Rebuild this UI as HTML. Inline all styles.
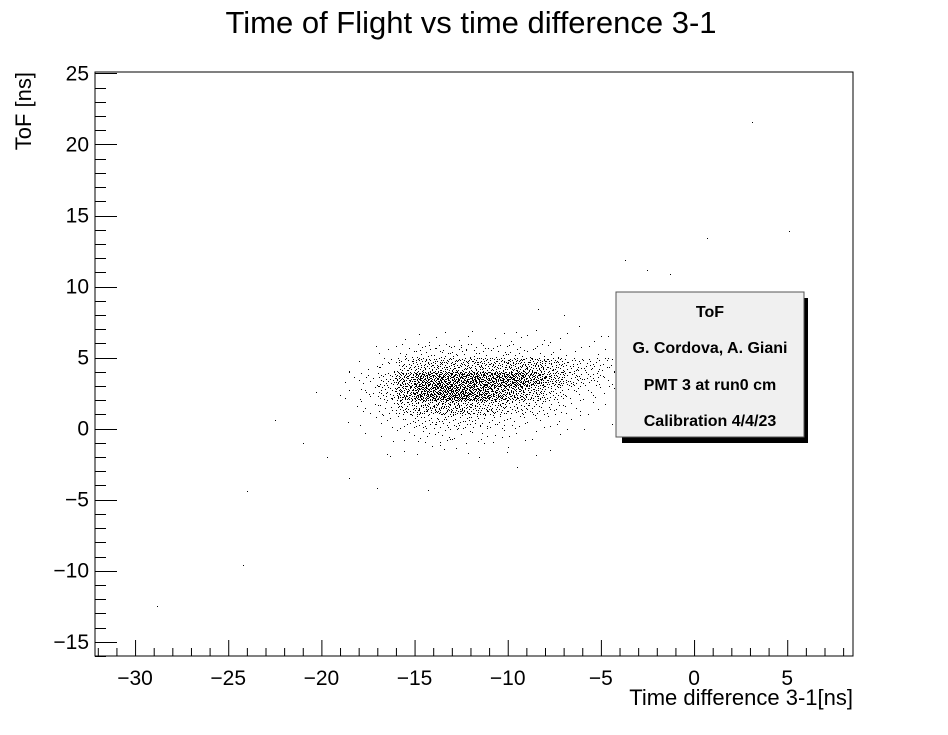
<!DOCTYPE html>
<html><head><meta charset="utf-8"><style>
html,body{margin:0;padding:0;background:#fff;}
svg text{font-family:"Liberation Sans",Helvetica,sans-serif;}
</style></head><body>
<svg id="chart" width="948" height="730" viewBox="0 0 948 730" xmlns="http://www.w3.org/2000/svg">
<rect x="0" y="0" width="948" height="730" fill="#fff"/>
<text x="471" y="33" font-size="31" text-anchor="middle">Time of Flight vs time difference 3-1</text>
<g id="dots"></g>
<g id="axes"></g>
<rect x="95" y="72" width="758" height="584" fill="none" stroke="#000" stroke-width="1"/>
<text transform="translate(31,72) rotate(-90)" font-size="22" text-anchor="end">ToF [ns]</text>
<text x="853" y="705" font-size="22" text-anchor="end">Time difference 3-1[ns]</text>
<g>
<rect x="622" y="298" width="186" height="145" fill="#000"/>
<rect x="616" y="292" width="188" height="145" fill="#f0f0f0" stroke="#555" stroke-width="1"/>
<text x="710" y="317" font-size="16" font-weight="bold" text-anchor="middle">ToF</text>
<text x="710" y="353" font-size="16" font-weight="bold" text-anchor="middle">G. Cordova, A. Giani</text>
<text x="710" y="390" font-size="16" font-weight="bold" text-anchor="middle">PMT 3 at run0 cm</text>
<text x="710" y="426" font-size="16" font-weight="bold" text-anchor="middle">Calibration 4/4/23</text>
</g>
</svg>
<script>
// ---- data ----
const xBinStarts = [-19,-18,-17,-16,-15,-14,-13,-12,-11,-10,-9,-8,-7,-6,-5,-4];
const yBinStarts = [6,5,4,3,2,1,0,-1,-2];
const binCounts = [
 [0,0,0,1,2,2,2,2,2,3,3,2,1,1,1,0],
 [0,1,2,8,12,14,14,12,10,10,8,5,3,2,1,1],
 [1,3,8,30,45,50,50,50,50,60,60,40,25,18,12,8],
 [3,8,25,80,130,140,140,140,130,140,100,60,30,18,8,4],
 [3,8,25,80,130,150,150,130,100,80,50,25,10,6,3,1],
 [1,5,12,35,50,60,60,45,40,25,20,12,5,3,1,1],
 [1,2,5,10,18,20,20,15,12,8,5,4,2,1,1,0],
 [0,1,2,4,6,8,6,5,4,3,2,1,1,0,0,0],
 [0,0,1,1,2,2,2,2,1,1,1,1,0,0,0,0]
];
const outlierX = [-28.8,-24.2,-24.0,-22.5,-21.0,-19.7,-17.0,-14.3,3.1,5.1,0.7,-2.5,-1.3,-3.7,-1.0,0.0,-8.4,-7.0,-5.0,-4.6,-3.0,-18.5,-16.5,-20.3,-9.5,-6.2];
const outlierY = [-12.5,-9.6,-4.4,0.6,-1.0,-2.0,-4.2,-4.3,21.6,13.9,13.4,11.2,10.9,11.9,9.5,9.0,8.4,8.0,6.5,5.0,6.0,-3.5,-1.8,2.6,-2.7,7.2];
const xTickValues = [-30,-25,-20,-15,-10,-5,0,5];
const xTickLabels = ["\u221230","\u221225","\u221220","\u221215","\u221210","\u22125","0","5"];
const yTickValues = [-15,-10,-5,0,5,10,15,20,25];
const yTickLabels = ["\u221215","\u221210","\u22125","0","5","10","15","20","25"];

// ---- axes ----
const X0=95, X1=853, Y0=656, Y1=72;
const xMin=-32.15, xMax=8.53, yMin=-16.0, yMax=25.1;
const sx = v => X0 + (v - xMin) / (xMax - xMin) * (X1 - X0);
const sy = v => Y0 - (v - yMin) / (yMax - yMin) * (Y0 - Y1);
const NS = "http://www.w3.org/2000/svg";

function halton(i, b){let f=1,r=0;while(i>0){f/=b;r+=f*(i%b);i=Math.floor(i/b);}return r;}

const dots = document.getElementById('dots');
let k = 1;
function addDot(x, y){
  const r = document.createElementNS(NS,'rect');
  
  
  r.setAttribute('x', Math.round(sx(x)));
  r.setAttribute('y', Math.round(sy(y)));
  r.setAttribute('width', 1); r.setAttribute('height', 1);
  r.setAttribute('fill', '#000');
  dots.appendChild(r);
}
for (let r = 0; r < yBinStarts.length; r++) {
  for (let c = 0; c < xBinStarts.length; c++) {
    const n = binCounts[r][c];
    for (let i = 0; i < n; i++) {
      addDot(xBinStarts[c] + halton(k,2), yBinStarts[r] + halton(k,3));
      k++;
    }
  }
}
for (let i = 0; i < outlierX.length; i++) addDot(outlierX[i], outlierY[i]);

const axes = document.getElementById('axes');
function line(x1,y1,x2,y2,name){
  const l = document.createElementNS(NS,'line');
  
  
  l.setAttribute('x1',x1);l.setAttribute('y1',y1);l.setAttribute('x2',x2);l.setAttribute('y2',y2);
  l.setAttribute('stroke','#000');l.setAttribute('stroke-width','1');
  axes.appendChild(l);
}
function text(x,y,s,anchor,name){
  const t = document.createElementNS(NS,'text');
  
  
  t.setAttribute('x',x);t.setAttribute('y',y);t.setAttribute('font-size','21');
  t.setAttribute('text-anchor',anchor);t.textContent=s;
  axes.appendChild(t);
}
for (let v = -32; v <= 8; v++) {
  const major = v % 5 === 0;
  const X = sx(v) + 0.5;
  line(X, Y0, X, Y0 - (major ? 16 : 8), major ? 'x-major-tick' : 'x-minor-tick');
}
xTickValues.forEach((v,i)=> text(sx(v), Y0+29, xTickLabels[i], 'middle', 'x-tick-label'));
for (let v = -16; v <= 25; v++) {
  const major = v % 5 === 0;
  const Y = Math.round(sy(v)) + 0.5;
  line(X0, Y, X0 + (major ? 22 : 11), Y, major ? 'y-major-tick' : 'y-minor-tick');
}
yTickValues.forEach((v,i)=> text(X0-6, sy(v)+7, yTickLabels[i], 'end', 'y-tick-label'));
</script>
</body></html>
